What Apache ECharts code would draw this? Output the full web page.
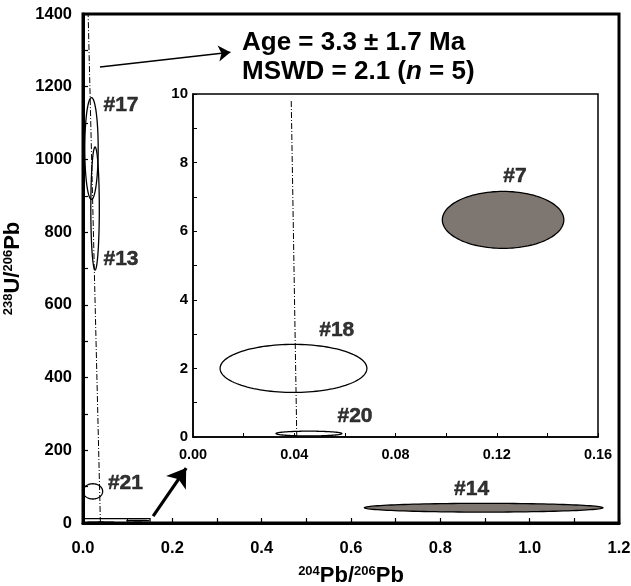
<!DOCTYPE html>
<html><head><meta charset="utf-8">
<script src="https://cdn.jsdelivr.net/npm/echarts@6/dist/echarts.min.js"></script>
<style>html,body{margin:0;padding:0;background:#fff}#c{width:631px;height:586px}</style>
</head><body><div id="c"></div><script>
// ---- main panel data ----
const mainXTicks = { min: 0, max: 1.2, interval: 0.2 };
const mainYTicks = { min: 0, max: 1400, interval: 200 };
const mainEllipseNames = ['#17', '#13', '#21', '#14'];
const mainEllipseCx = [0.019, 0.027, 0.022, 0.897];
const mainEllipseCy = [1030, 865, 87, 42];
const mainEllipseRx = [0.015, 0.0095, 0.022, 0.267];
const mainEllipseRy = [140, 169, 21, 12];
const mainEllipseFilled = [0, 0, 0, 1];
const mainLabelX = [0.085, 0.085, 0.095, 0.87];
const mainLabelY = [1148, 725, 110, 93];
const mainIsochronX = [0.039, 0.0115];
const mainIsochronY = [0, 1400];
// inset-region box drawn in main panel [x0, y0, x1, y1]
const insetBoxMain = [0, 0, 0.15, 12];
// ---- inset panel data ----
const insetXTicks = { min: 0, max: 0.16, interval: 0.04 };
const insetYTicks = { min: 0, max: 10, interval: 2 };
const insetEllipseNames = ['#7', '#18', '#20'];
const insetEllipseCx = [0.1225, 0.0397, 0.0458];
const insetEllipseCy = [6.33, 2.0, 0.1];
const insetEllipseRx = [0.024, 0.029, 0.013];
const insetEllipseRy = [0.83, 0.7, 0.07];
const insetEllipseFilled = [1, 0, 0];
const insetLabelX = [0.1272, 0.0568, 0.064];
const insetLabelY = [7.59, 3.12, 0.61];
const insetIsochronX = [0.041, 0.0388];
const insetIsochronY = [0, 9.85];
// ---- arrows (main data coords) ----
const arrowTextFrom = [0.038, 1254];
const arrowTextTo = [0.33, 1295];
const arrowInsetFrom = [0.157, 19];
const arrowInsetTo = [0.231, 151];
const ageText = ['Age = 3.3 ± 1.7 Ma', 'MSWD = 2.1 ({i|n} = 5)'];

const FONT = '"Liberation Sans", Arial, sans-serif';
const FILL = '#7e7671';
const INK = '#000';

function ellipseRender(params, api) {
  const cx = api.value(0), cy = api.value(1), rx = api.value(2), ry = api.value(3), f = api.value(4);
  const pts = [];
  const N = 120;
  for (let k = 0; k < N; k++) {
    const t = k / N * Math.PI * 2;
    pts.push(api.coord([cx + rx * Math.cos(t), cy + ry * Math.sin(t)]));
  }
  return { type: 'polygon', shape: { points: pts },
    style: { fill: f ? FILL : 'none', stroke: '#000', lineWidth: 1.3 } };
}
function rectRender(params, api) {
  const p0 = api.coord([api.value(0), api.value(1)]);
  const p1 = api.coord([api.value(2), api.value(3)]);
  return { type: 'rect', shape: { x: p0[0], y: p1[1], width: p1[0] - p0[0], height: p0[1] - p1[1] },
    style: { fill: 'none', stroke: '#000', lineWidth: 1.3 } };
}
function ellipseData(cx, cy, rx, ry, f) { return cx.map((x, i) => [x, cy[i], rx[i], ry[i], f[i]]); }

const tickLabel = (size, margin, dec) => ({ fontSize: size, fontWeight: 'bold', fontFamily: FONT, color: INK, margin: margin,
  formatter: v => v.toFixed(dec) });
const nameRich = {
  s: { fontSize: 13, fontWeight: 'bold', fontFamily: FONT, color: INK, verticalAlign: 'top' },
  b: { fontSize: 22, fontWeight: 'bold', fontFamily: FONT, color: INK, verticalAlign: 'bottom' }
};
const pointLabel = names => ({ show: true, position: 'inside', formatter: p => names[p.dataIndex],
  fontSize: 21, fontWeight: 'bold', fontFamily: FONT, color: INK, textBorderColor: INK, textBorderWidth: 0.5 });

const chart = echarts.init(document.getElementById('c'), null, { renderer: 'canvas' });
chart.setOption({
  backgroundColor: '#fff',
  animation: false,
  grid: [
    { left: 83, right: 12, top: 14, bottom: 63, containLabel: false, outerBoundsMode: 'none',
      show: true, borderColor: '#000', borderWidth: 3, backgroundColor: '#fff' },
    { left: 193, right: 33, top: 94, bottom: 149, containLabel: false, outerBoundsMode: 'none',
      show: true, borderColor: '#000', borderWidth: 1.5, backgroundColor: '#fff', z: 5 }
  ],
  xAxis: [
    { gridIndex: 0, type: 'value', min: mainXTicks.min, max: mainXTicks.max, interval: mainXTicks.interval,
      axisLine: { lineStyle: { color: '#000', width: 3 } },
      axisTick: { inside: true, length: 5, lineStyle: { color: '#000', width: 1.2 } },
      minorTick: { show: true, splitNumber: 2, length: 5, lineStyle: { color: '#000', width: 1.2 } },
      splitLine: { show: false },
      axisLabel: tickLabel(16.5, 17, 1),
      name: '{s|204}{b|Pb/}{s|206}{b|Pb}', nameLocation: 'middle', nameGap: 42,
      nameTextStyle: { rich: nameRich } },
    { gridIndex: 1, type: 'value', min: insetXTicks.min, max: insetXTicks.max, interval: insetXTicks.interval,
      axisLine: { lineStyle: { color: '#000', width: 1.5 } },
      axisTick: { inside: true, length: 4, lineStyle: { color: '#000', width: 1 } },
      minorTick: { show: true, splitNumber: 2, length: 4, lineStyle: { color: '#000', width: 1 } },
      splitLine: { show: false },
      axisLabel: tickLabel(14.5, 10, 2), z: 6 }
  ],
  yAxis: [
    { gridIndex: 0, type: 'value', min: mainYTicks.min, max: mainYTicks.max, interval: mainYTicks.interval,
      axisLine: { lineStyle: { color: '#000', width: 3 } },
      axisTick: { inside: true, length: 5, lineStyle: { color: '#000', width: 1.2 } },
      minorTick: { show: true, splitNumber: 2, length: 5, lineStyle: { color: '#000', width: 1.2 } },
      splitLine: { show: false },
      axisLabel: tickLabel(16.5, 11, 0),
      name: '{s|238}{b|U/}{s|206}{b|Pb}', nameLocation: 'middle', nameGap: 46,
      nameTextStyle: { rich: nameRich } },
    { gridIndex: 1, type: 'value', min: insetYTicks.min, max: insetYTicks.max, interval: insetYTicks.interval,
      axisLine: { lineStyle: { color: '#000', width: 1.5 } },
      axisTick: { inside: true, length: 4, lineStyle: { color: '#000', width: 1 } },
      minorTick: { show: true, splitNumber: 2, length: 4, lineStyle: { color: '#000', width: 1 } },
      splitLine: { show: false },
      axisLabel: tickLabel(15, 5, 0), z: 6 }
  ],
  graphic: [{
    type: 'text', left: 242, top: 28, z: 100,
    style: { text: ageText.join('\n'), font: 'bold 26px ' + FONT, fill: INK, lineHeight: 29,
      rich: { i: { fontStyle: 'italic', fontWeight: 'bold', fontSize: 26, fontFamily: FONT, fill: INK, lineHeight: 29 } } }
  }],
  series: [
    { type: 'line', xAxisIndex: 0, yAxisIndex: 0, data: mainIsochronX.map((x, i) => [x, mainIsochronY[i]]),
      symbol: 'none', silent: true, lineStyle: { color: '#000', width: 1, type: [6, 2, 1, 2] } },
    { type: 'custom', xAxisIndex: 0, yAxisIndex: 0, renderItem: ellipseRender, silent: true,
      data: ellipseData(mainEllipseCx, mainEllipseCy, mainEllipseRx, mainEllipseRy, mainEllipseFilled) },
    { type: 'custom', xAxisIndex: 0, yAxisIndex: 0, renderItem: ellipseRender, silent: true,
      data: ellipseData(insetEllipseCx, insetEllipseCy, insetEllipseRx, insetEllipseRy, insetEllipseFilled) },
    { type: 'custom', xAxisIndex: 0, yAxisIndex: 0, renderItem: rectRender, silent: true, data: [insetBoxMain] },
    { type: 'scatter', xAxisIndex: 0, yAxisIndex: 0, symbolSize: 0.1, silent: true, itemStyle: { color: 'rgba(0,0,0,0)' },
      data: mainLabelX.map((x, i) => [x, mainLabelY[i]]), label: pointLabel(mainEllipseNames) },
    { type: 'lines', coordinateSystem: 'cartesian2d', xAxisIndex: 0, yAxisIndex: 0, silent: true, z: 20,
      symbol: ['none', 'arrow'], symbolSize: 12,
      lineStyle: { color: '#000', width: 1.5, opacity: 1, curveness: 0 },
      data: [{ coords: [arrowTextFrom, arrowTextTo] }] },
    { type: 'lines', coordinateSystem: 'cartesian2d', xAxisIndex: 0, yAxisIndex: 0, silent: true, z: 20,
      symbol: ['none', 'arrow'], symbolSize: 18,
      lineStyle: { color: '#000', width: 3.2, opacity: 1, curveness: 0 },
      data: [{ coords: [arrowInsetFrom, arrowInsetTo] }] },
    // inset
    { type: 'line', xAxisIndex: 1, yAxisIndex: 1, data: insetIsochronX.map((x, i) => [x, insetIsochronY[i]]), z: 10,
      symbol: 'none', silent: true, lineStyle: { color: '#000', width: 1, type: [6, 2, 1, 2] } },
    { type: 'custom', xAxisIndex: 1, yAxisIndex: 1, renderItem: ellipseRender, silent: true, z: 10,
      data: ellipseData(insetEllipseCx, insetEllipseCy, insetEllipseRx, insetEllipseRy, insetEllipseFilled) },
    { type: 'scatter', xAxisIndex: 1, yAxisIndex: 1, symbolSize: 0.1, silent: true, z: 10, itemStyle: { color: 'rgba(0,0,0,0)' },
      data: insetLabelX.map((x, i) => [x, insetLabelY[i]]), label: pointLabel(insetEllipseNames) }
  ]
});
</script></body></html>
